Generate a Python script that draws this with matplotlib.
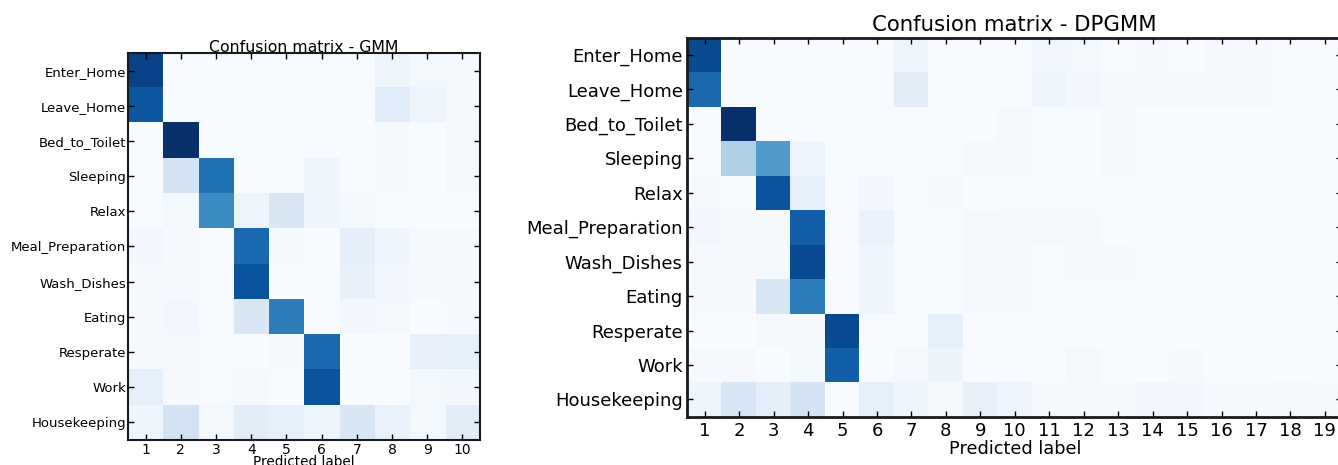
import numpy as np
import matplotlib
matplotlib.use("Agg")
import matplotlib.pyplot as plt

classes = ["Enter_Home", "Leave_Home", "Bed_to_Toilet", "Sleeping", "Relax",
           "Meal_Preparation", "Wash_Dishes", "Eating", "Resperate", "Work",
           "Housekeeping"]

gmm_labels = [str(i) for i in range(1, 11)]
dpgmm_labels = [str(i) for i in range(1, 20)]

# normalised confusion values (rows: true class, cols: predicted cluster)
gmm = np.array([
    [0.93, 0.00, 0.00, 0.00, 0.00, 0.00, 0.00, 0.05, 0.02, 0.01],
    [0.85, 0.00, 0.00, 0.00, 0.00, 0.00, 0.00, 0.12, 0.05, 0.01],
    [0.00, 1.00, 0.00, 0.00, 0.00, 0.00, 0.00, 0.01, 0.00, 0.02],
    [0.00, 0.18, 0.75, 0.00, 0.00, 0.04, 0.00, 0.01, 0.00, 0.02],
    [0.00, 0.02, 0.65, 0.05, 0.15, 0.04, 0.02, 0.00, 0.00, 0.00],
    [0.03, 0.01, 0.00, 0.78, 0.01, 0.00, 0.10, 0.04, 0.01, 0.01],
    [0.01, 0.01, 0.00, 0.86, 0.00, 0.00, 0.08, 0.03, 0.01, 0.01],
    [0.01, 0.03, 0.00, 0.15, 0.70, 0.00, 0.03, 0.02, 0.00, 0.01],
    [0.01, 0.01, 0.00, 0.00, 0.01, 0.78, 0.00, 0.00, 0.08, 0.09],
    [0.09, 0.01, 0.00, 0.01, 0.00, 0.86, 0.00, 0.00, 0.02, 0.03],
    [0.04, 0.18, 0.02, 0.11, 0.09, 0.04, 0.15, 0.07, 0.02, 0.11],
])

dpgmm = np.array([
    [0.90, 0.00, 0.00, 0.00, 0.00, 0.00, 0.05, 0.00, 0.00, 0.00, 0.03, 0.02, 0.00, 0.01, 0.00, 0.01, 0.01, 0.00, 0.00],
    [0.78, 0.00, 0.00, 0.00, 0.00, 0.00, 0.11, 0.00, 0.00, 0.00, 0.05, 0.03, 0.01, 0.01, 0.01, 0.01, 0.01, 0.00, 0.00],
    [0.00, 1.00, 0.00, 0.00, 0.00, 0.00, 0.00, 0.00, 0.00, 0.01, 0.00, 0.00, 0.01, 0.00, 0.00, 0.00, 0.00, 0.00, 0.00],
    [0.00, 0.32, 0.58, 0.05, 0.00, 0.00, 0.00, 0.00, 0.01, 0.02, 0.00, 0.00, 0.01, 0.00, 0.00, 0.00, 0.00, 0.00, 0.00],
    [0.01, 0.00, 0.86, 0.09, 0.00, 0.03, 0.00, 0.01, 0.00, 0.00, 0.00, 0.00, 0.00, 0.00, 0.00, 0.00, 0.00, 0.00, 0.00],
    [0.03, 0.01, 0.01, 0.82, 0.00, 0.07, 0.00, 0.00, 0.02, 0.01, 0.01, 0.01, 0.00, 0.00, 0.00, 0.00, 0.00, 0.00, 0.00],
    [0.01, 0.01, 0.01, 0.90, 0.00, 0.04, 0.00, 0.00, 0.01, 0.01, 0.00, 0.015, 0.015, 0.00, 0.00, 0.00, 0.00, 0.00, 0.00],
    [0.01, 0.01, 0.16, 0.70, 0.00, 0.04, 0.00, 0.00, 0.01, 0.015, 0.00, 0.00, 0.00, 0.00, 0.00, 0.00, 0.00, 0.00, 0.00],
    [0.00, 0.00, 0.01, 0.01, 0.90, 0.00, 0.00, 0.09, 0.00, 0.00, 0.00, 0.00, 0.00, 0.00, 0.00, 0.00, 0.00, 0.00, 0.00],
    [0.01, 0.01, 0.00, 0.02, 0.82, 0.00, 0.02, 0.06, 0.00, 0.00, 0.00, 0.02, 0.00, 0.00, 0.01, 0.00, 0.00, 0.00, 0.00],
    [0.04, 0.16, 0.10, 0.18, 0.00, 0.09, 0.04, 0.01, 0.08, 0.05, 0.01, 0.01, 0.01, 0.03, 0.03, 0.01, 0.01, 0.02, 0.01],
])

W, H = 1338, 465
fig = plt.figure(figsize=(W / 100, H / 100), dpi=100)


def draw(ax, mat, xlabels, title, fs_ytick, fs_xtick, fs_title, fs_xlabel,
         title_pad, label_pad, ypad, xpad, spine_w):
    ax.imshow(mat, interpolation="nearest", cmap="Blues", vmin=0, vmax=1, aspect="auto")
    ax.set_xticks(np.arange(len(xlabels)))
    ax.set_xticklabels(xlabels, fontsize=fs_xtick)
    ax.set_yticks(np.arange(len(classes)))
    ax.set_yticklabels(classes, fontsize=fs_ytick)
    ax.tick_params(direction="in", top=True, right=True, length=4, width=1,
                   colors="black")
    ax.tick_params(axis="y", pad=ypad)
    ax.tick_params(axis="x", pad=xpad)
    ax.set_title(title, fontsize=fs_title, pad=title_pad)
    ax.set_xlabel("Predicted label", fontsize=fs_xlabel, labelpad=label_pad)
    for s in ax.spines.values():
        s.set_linewidth(spine_w)
        s.set_color("#1a1a1a")


ax1 = fig.add_axes([128 / W, 1 - 440 / H, 352 / W, 387 / H])
draw(ax1, gmm, gmm_labels, "Confusion matrix - GMM", 9.5, 10, 11.3, 9.8,
     0.5, -1, 1.5, 2, 1.5)

ax2 = fig.add_axes([687.5 / W, 1 - 416.7 / H, 654.6 / W, 379 / H])
draw(ax2, dpgmm, dpgmm_labels, "Confusion matrix - DPGMM", 13, 13, 15.3, 12.8,
     5, 0, 3.5, 4, 2)

fig.savefig("out.png", dpi=100)
